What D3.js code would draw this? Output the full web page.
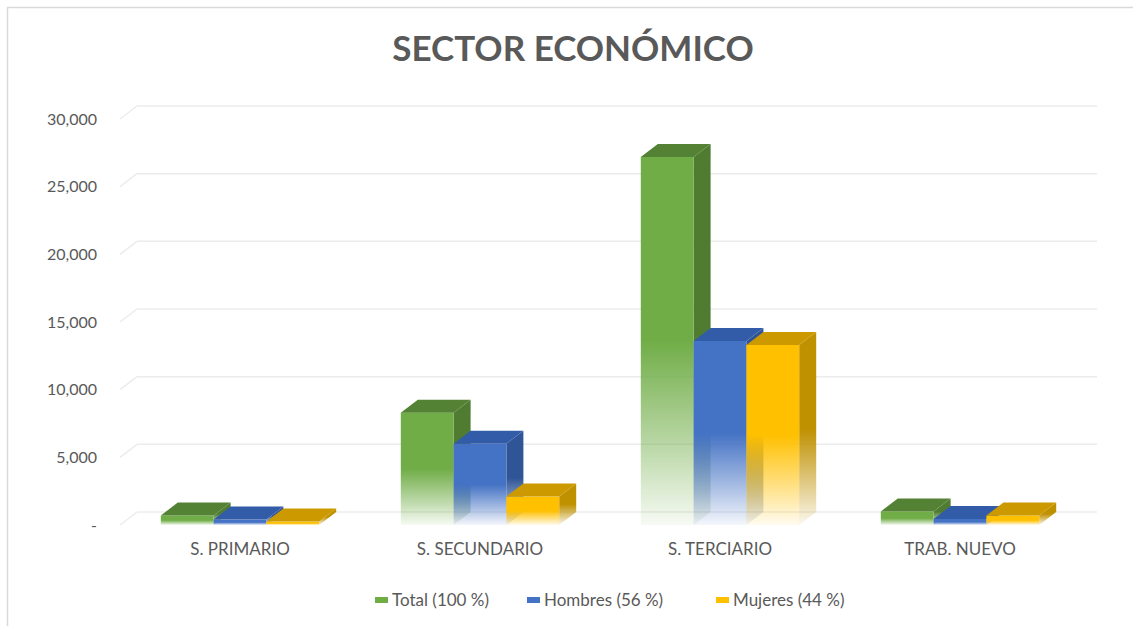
<!DOCTYPE html>
<html>
<head>
<meta charset="utf-8">
<script src="https://cdn.jsdelivr.net/npm/d3@7"></script>
<style>
  html, body { margin: 0; padding: 0; background: #ffffff; }
  svg { display: block; font-family: Lato, "Open Sans", sans-serif; }
</style>
</head>
<body>
<svg id="chart" width="1133" height="626"></svg>
<script>
// Employment by economic sector
const categories = ["S. PRIMARIO", "S. SECUNDARIO", "S. TERCIARIO", "TRAB. NUEVO"];
const seriesNames = ["Total (100 %)", "Hombres (56 %)", "Mujeres (44 %)"];
const totalValues = [700, 8300, 27200, 1000];
const hombresValues = [400, 6000, 13600, 450];
const mujeresValues = [250, 2100, 13300, 700];
const yTicks = [0, 5000, 10000, 15000, 20000, 25000, 30000];

const seriesValues = [totalValues, hombresValues, mujeresValues];
const palette = [
  { front: "#70ad47", side: "#4f7c31", top: "#548235" },
  { front: "#4472c4", side: "#2f5597", top: "#335ca8" },
  { front: "#ffc000", side: "#bf9000", top: "#cc9a00" }
];

const svg = d3.select("#chart");
const W = 1133, H = 626;

// chart frame
svg.append("path")
  .attr("d", `M7.5,${H} V7.5 H${W}`)
  .attr("fill", "none").attr("stroke", "#d9d9d9").attr("stroke-width", 1.5);

// title
svg.append("text")
  .attr("x", 573).attr("y", 61)
  .attr("text-anchor", "middle")
  .attr("font-size", 35).attr("font-weight", 700)
  .attr("fill", "#595959")
  .text("SECTOR ECONÓMICO");

// 3D depth offset of the back wall
const depthX = 17, depthY = -13;
const plotLeft = 120, plotRight = 1080;

const x0 = d3.scaleBand().domain(categories).range([plotLeft, plotRight]).paddingInner(0.34).paddingOuter(0.17);
const x1 = d3.scaleBand().domain(d3.range(seriesValues.length)).range([0, x0.bandwidth()]);
const y = d3.scaleLinear().domain([0, 30000]).range([525, 119]);

// gradients: solid at the top, fading out toward the floor
const defs = svg.append("defs");
palette.forEach((p, i) => {
  ["front", "side"].forEach(face => {
    const g = defs.append("linearGradient")
      .attr("id", `grad-${i}-${face}`)
      .attr("x1", 0).attr("y1", 0).attr("x2", 0).attr("y2", 1);
    g.append("stop").attr("offset", "0").attr("stop-color", p[face]).attr("stop-opacity", 1);
    g.append("stop").attr("offset", "0.5").attr("stop-color", p[face]).attr("stop-opacity", 1);
    g.append("stop").attr("offset", "0.8").attr("stop-color", p[face]).attr("stop-opacity", 0.45);
    g.append("stop").attr("offset", "1").attr("stop-color", p[face]).attr("stop-opacity", 0.06);
  });
});

// back-wall gridlines and floor edges
const grid = svg.append("g");
yTicks.forEach(t => {
  const yy = y(t);
  grid.append("line")
    .attr("x1", plotLeft + depthX).attr("x2", plotRight + depthX)
    .attr("y1", yy + depthY).attr("y2", yy + depthY)
    .attr("stroke", "#ececec").attr("stroke-width", 1.5);
  grid.append("line")
    .attr("x1", plotLeft).attr("y1", yy)
    .attr("x2", plotLeft + depthX).attr("y2", yy + depthY)
    .attr("stroke", "#ececec").attr("stroke-width", 1.5);
});

// y axis labels
const yAxis = d3.axisLeft(y).tickValues(yTicks).tickSize(0).tickPadding(0)
  .tickFormat(d => d === 0 ? "-" : d3.format(",")(d));
const yg = svg.append("g").attr("transform", "translate(97,0)").call(yAxis);
yg.select(".domain").remove();
yg.selectAll("text").attr("font-size", 16).attr("fill", "#595959")
  .attr("font-family", "Lato, 'Open Sans', sans-serif");

// x axis labels
const xAxis = d3.axisBottom(x0).tickSize(0).tickPadding(0);
const xg = svg.append("g").attr("transform", "translate(0,543)").call(xAxis);
xg.select(".domain").remove();
xg.selectAll("text").attr("font-size", 17).attr("fill", "#595959")
  .attr("font-family", "Lato, 'Open Sans', sans-serif");

// 3D bars
const bars = svg.append("g");
categories.forEach((c, ci) => {
  seriesValues.forEach((vals, si) => {
    const v = vals[ci];
    const left = x0(c) + x1(si);
    const right = left + x1.bandwidth();
    const top = y(v), base = y(0);
    const g = bars.append("g");
    // side face
    g.append("path")
      .attr("d", `M${right},${top} L${right + depthX},${top + depthY} L${right + depthX},${base + depthY} L${right},${base} Z`)
      .attr("fill", `url(#grad-${si}-side)`);
    // front face
    g.append("rect")
      .attr("x", left).attr("y", top)
      .attr("width", right - left).attr("height", base - top)
      .attr("fill", `url(#grad-${si}-front)`);
    // top face
    g.append("path")
      .attr("d", `M${left},${top} L${left + depthX},${top + depthY} L${right + depthX},${top + depthY} L${right},${top} Z`)
      .attr("fill", palette[si].top);
  });
});

// legend
const legendX = [375, 527, 716];
const legend = svg.append("g");
seriesNames.forEach((n, i) => {
  legend.append("rect")
    .attr("x", legendX[i]).attr("y", 597)
    .attr("width", 13).attr("height", 6)
    .attr("fill", palette[i].front);
  legend.append("text")
    .attr("x", legendX[i] + 17).attr("y", 606)
    .attr("font-size", 17).attr("fill", "#595959")
    .text(n);
});
</script>
</body>
</html>
